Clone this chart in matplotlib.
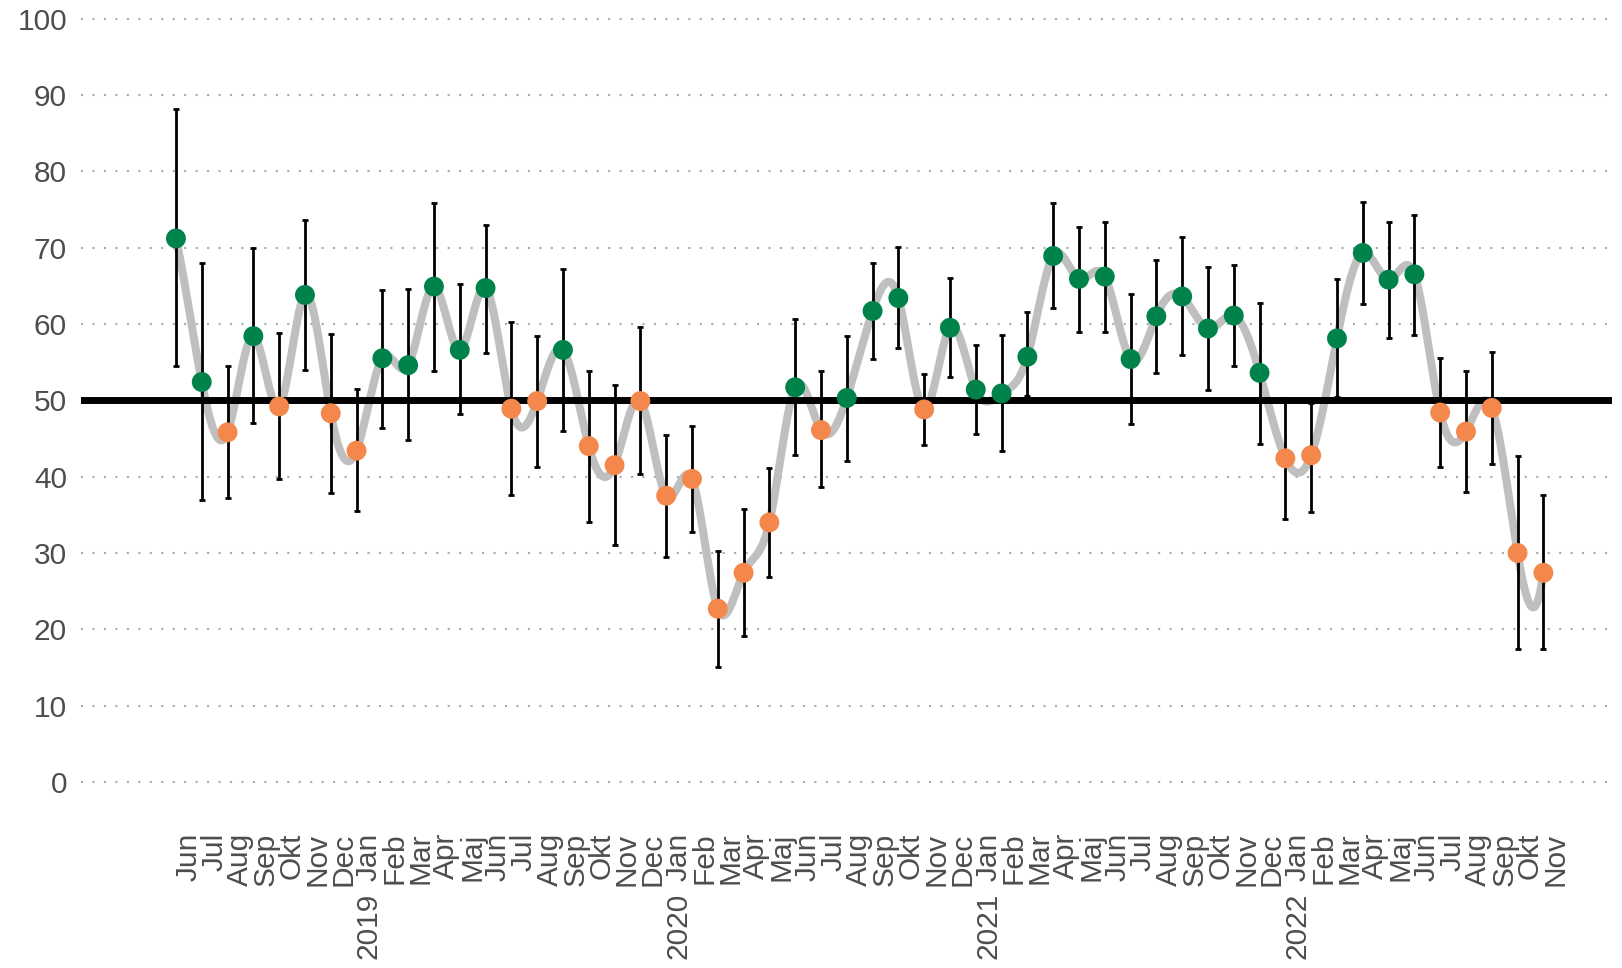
import numpy as np
import matplotlib
matplotlib.use("Agg")
import matplotlib.pyplot as plt

plt.rcParams['font.family'] = ['Liberation Sans', 'DejaVu Sans']

months = ['Jun', 'Jul', 'Aug', 'Sep', 'Okt', 'Nov', 'Dec',
          'Jan', 'Feb', 'Mar', 'Apr', 'Maj', 'Jun', 'Jul', 'Aug', 'Sep', 'Okt', 'Nov', 'Dec',
          'Jan', 'Feb', 'Mar', 'Apr', 'Maj', 'Jun', 'Jul', 'Aug', 'Sep', 'Okt', 'Nov', 'Dec',
          'Jan', 'Feb', 'Mar', 'Apr', 'Maj', 'Jun', 'Jul', 'Aug', 'Sep', 'Okt', 'Nov', 'Dec',
          'Jan', 'Feb', 'Mar', 'Apr', 'Maj', 'Jun', 'Jul', 'Aug', 'Sep', 'Okt', 'Nov']
years = ['2019', '2020', '2021', '2022']
year_start = [7, 19, 31, 43]

value = [71.2, 52.4, 45.8, 58.4, 49.2, 63.8, 48.3,
         43.4, 55.5, 54.6, 64.9, 56.6, 64.7, 48.9, 49.9, 56.6, 44.0, 41.5, 49.9,
         37.5, 39.7, 22.7, 27.4, 34.0, 51.7, 46.1, 50.3, 61.7, 63.4, 48.8, 59.5,
         51.4, 50.9, 55.7, 68.9, 65.9, 66.2, 55.4, 61.0, 63.6, 59.4, 61.1, 53.6,
         42.4, 42.8, 58.1, 69.3, 65.8, 66.5, 48.4, 45.9, 49.0, 30.0, 27.4]
upper = [88.1, 68.0, 54.5, 69.9, 58.8, 73.6, 58.7,
         51.5, 64.4, 64.6, 75.9, 65.2, 73.0, 60.3, 58.4, 67.2, 53.9, 52.0, 59.6,
         45.4, 46.6, 30.3, 35.7, 41.1, 60.6, 53.8, 58.4, 68.0, 70.1, 53.4, 66.0,
         57.2, 58.5, 61.5, 75.8, 72.7, 73.4, 63.9, 68.4, 71.4, 67.5, 67.7, 62.8,
         50.3, 49.6, 65.9, 76.0, 73.4, 74.3, 55.5, 53.9, 56.3, 42.7, 37.6]
lower = [54.5, 37.0, 37.2, 47.0, 39.7, 54.0, 37.9,
         35.5, 46.4, 44.8, 53.9, 48.2, 56.2, 37.6, 41.2, 46.0, 34.0, 31.0, 40.3,
         29.5, 32.8, 15.0, 19.1, 26.9, 42.8, 38.6, 42.1, 55.4, 56.8, 44.2, 53.0,
         45.6, 43.4, 50.6, 62.1, 59.0, 59.0, 46.9, 53.6, 55.9, 51.4, 54.5, 44.3,
         34.5, 35.4, 50.4, 62.6, 58.1, 58.6, 41.3, 38.0, 41.7, 17.4, 17.4]
ref_level = 50

GREEN = '#00834A'
ORANGE = '#F4874B'
TXT = '#4D4D4D'


def spline(x, y, xs):
    # cubic spline with not-a-knot ends for the smoothed grey curve
    n = len(x)
    h = np.diff(x)
    A = np.zeros((n, n))
    b = np.zeros(n)
    A[0, 0:3] = [h[1], -(h[0] + h[1]), h[0]]
    A[-1, -3:] = [h[-1], -(h[-2] + h[-1]), h[-2]]
    for i in range(1, n - 1):
        A[i, i - 1] = h[i - 1]
        A[i, i] = 2 * (h[i - 1] + h[i])
        A[i, i + 1] = h[i]
        b[i] = 3 * ((y[i + 1] - y[i]) / h[i] - (y[i] - y[i - 1]) / h[i - 1])
    c = np.linalg.solve(A, b)
    idx = np.clip(np.searchsorted(x, xs) - 1, 0, n - 2)
    dx = xs - x[idx]
    bb = (y[idx + 1] - y[idx]) / h[idx] - h[idx] * (2 * c[idx] + c[idx + 1]) / 3
    dd = (c[idx + 1] - c[idx]) / (3 * h[idx])
    return y[idx] + bb * dx + c[idx] * dx ** 2 + dd * dx ** 3


x = np.arange(len(value), dtype=float)
v = np.array(value)
lo = np.array(lower)
hi = np.array(upper)
colors = [GREEN if val > ref_level else ORANGE for val in value]

fig = plt.figure(figsize=(16.22, 9.68), dpi=100)
ax = fig.add_axes([81 / 1622, 0.1685, (1612 - 81) / 1622, 0.8202])

for g in range(0, 101, 10):
    ax.axhline(g, color='#AAAAAA', lw=1.5, ls=(0, (1, 4.5)), zorder=1)

xs = np.linspace(x[0], x[-1], 2000)
ax.plot(xs, spline(x, v, xs), color='#BFBFBF', lw=5.8,
        solid_capstyle='round', zorder=2)
ax.axhline(ref_level, color='black', lw=5, zorder=3)
ax.errorbar(x, v, yerr=[v - lo, hi - v], fmt='none', ecolor='black',
            elinewidth=2, capsize=2, capthick=2, zorder=4)
ax.scatter(x, v, s=205, c=colors, edgecolors='none', zorder=5)

ax.set_xlim(-3.68, 55.66)
ax.set_ylim(-3, 101)
ax.set_yticks(range(0, 101, 10))
ax.set_xticks(x + 0.48)
ax.set_xticklabels(months, rotation=90, ha='center', va='top')
ax.tick_params(axis='x', length=0, pad=20, labelsize=21.5, labelcolor=TXT)
ax.tick_params(axis='y', length=0, pad=10, labelsize=21.5, labelcolor=TXT)
for s in ax.spines.values():
    s.set_visible(False)

for yr, pos in zip(years, year_start):
    ax.annotate(yr, xy=(pos + 0.48, 0), xycoords=('data', 'axes fraction'),
                xytext=(0, -63), textcoords='offset points', rotation=90,
                ha='center', va='top', fontsize=21.5, color=TXT)

fig.savefig('out.png', dpi=100, facecolor='white')
